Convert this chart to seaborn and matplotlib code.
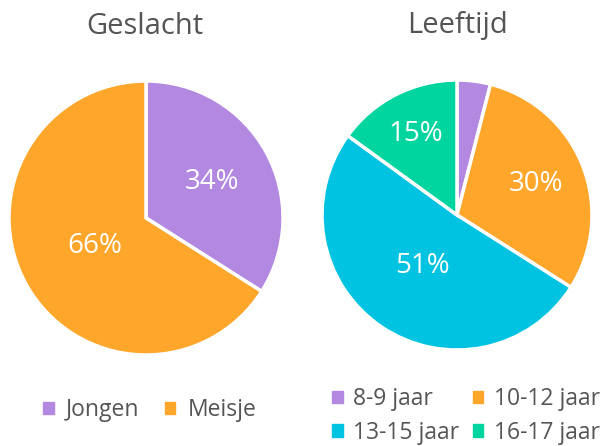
import matplotlib
matplotlib.use("Agg")
import matplotlib.pyplot as plt
from matplotlib.patches import Patch
import numpy as np
import seaborn as sns

# data
geslacht_labels = ["Jongen", "Meisje"]
geslacht_values = [34, 66]
leeftijd_labels = ["8-9 jaar", "10-12 jaar", "13-15 jaar", "16-17 jaar"]
leeftijd_values = [4, 30, 51, 15]

purple = "#b388e0"
orange = "#ffa62b"
cyan = "#00c3e1"
green = "#00d59f"
text_grey = "#555555"

sns.set_theme(style="white")
plt.rcParams['font.family'] = ['Open Sans', 'DejaVu Sans']

W, H = 602, 446
fig = plt.figure(figsize=(W / 100, H / 100), dpi=100)


def pie_axes(cx, cy, r):
    return fig.add_axes([(cx - r) / W, (H - cy - r) / H, 2 * r / W, 2 * r / H])


def draw_pie(ax, values, colors, dists, min_pct=5):
    wedges, _, autotexts = ax.pie(
        values, colors=colors, startangle=90, counterclock=False,
        autopct=lambda p: f"{p:.0f}%" if p >= min_pct else "",
        wedgeprops=dict(edgecolor="white", linewidth=2.5),
        textprops=dict(color="white", fontsize=20),
    )
    # move the percentage labels a bit, per slice
    start = 90.0
    total = sum(values)
    for v, t, d in zip(values, autotexts, dists):
        mid = np.deg2rad(start - v / total * 180)
        t.set_position((d * np.cos(mid), d * np.sin(mid)))
        start -= v / total * 360
    ax.set_xlim(-1, 1)
    ax.set_ylim(-1, 1)
    ax.set_aspect("equal")
    ax.axis("off")


ax1 = pie_axes(146, 218, 137)
draw_pie(ax1, geslacht_values, [purple, orange], [0.55, 0.43])
ax2 = pie_axes(457, 215, 135)
draw_pie(ax2, leeftijd_values, [purple, orange, cyan, green], [0.6, 0.63, 0.46, 0.67])

fig.text(145 / W, 1 - 26 / H, "Geslacht", ha="center", va="center",
         fontsize=21, color=text_grey)
fig.text(457 / W, 1 - 26 / H, "Leeftijd", ha="center", va="center",
         fontsize=21, color=text_grey)

leg_kw = dict(frameon=False, handlelength=0.45, handleheight=0.45,
              fontsize=16.5, labelcolor=text_grey,
              borderaxespad=0, borderpad=0)

h1 = [Patch(color=c, label=l) for c, l in zip([purple, orange], geslacht_labels)]
fig.legend(handles=h1, ncol=2, loc="center", bbox_to_anchor=(150 / W, 1 - 410 / H),
           columnspacing=1.1, handletextpad=0.55, **leg_kw)

# legend fills column by column, so reorder to read row by row
h2 = [Patch(color=c, label=l) for c, l in zip([purple, orange, cyan, green], leeftijd_labels)]
h2 = [h2[0], h2[2], h2[1], h2[3]]
fig.legend(handles=h2, ncol=2, loc="center", bbox_to_anchor=(466 / W, 1 - 416 / H),
           columnspacing=0.6, handletextpad=0.45, labelspacing=0.4, **leg_kw)

fig.savefig("out.png", dpi=100)
